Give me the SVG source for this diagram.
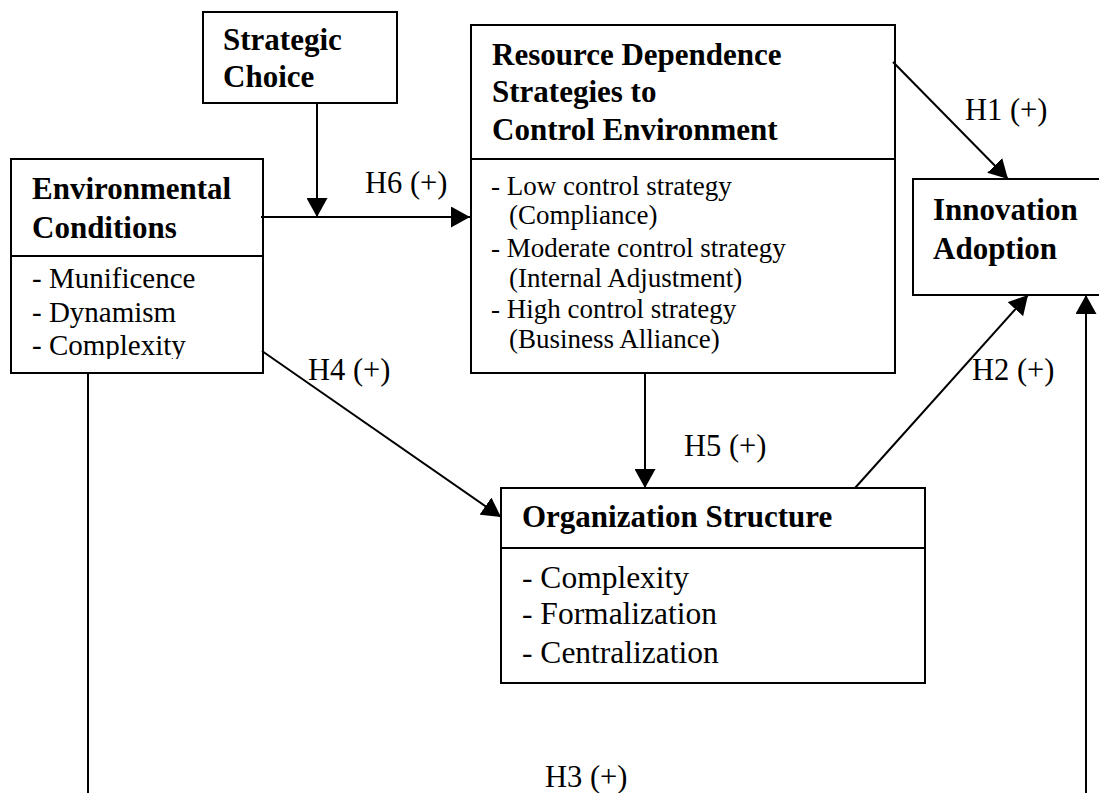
<svg xmlns="http://www.w3.org/2000/svg" width="1099" height="793" viewBox="0 0 1099 793">
<style>
.box{fill:#fff;stroke:#000;stroke-width:2}
.div{stroke:#000;stroke-width:2}
.h{font-family:"Liberation Serif","Times New Roman",serif;font-weight:bold;font-size:31px;fill:#000}
.t{font-family:"Liberation Serif","Times New Roman",serif;font-size:29px;fill:#000}
.r{font-family:"Liberation Serif","Times New Roman",serif;font-size:27px;fill:#000}
.o{font-family:"Liberation Serif","Times New Roman",serif;font-size:31.5px;fill:#000}
.lab{font-family:"Liberation Serif","Times New Roman",serif;font-size:30.5px;fill:#000}
.c{fill:none;stroke:#000;stroke-width:2}
</style>
<defs>
<marker id="ah" markerUnits="userSpaceOnUse" viewBox="0 0 19 21" refX="19" refY="10.5" markerWidth="19" markerHeight="21" orient="auto">
<path d="M0,0 L19,10.5 L0,21 z" fill="#000"/>
</marker>
<clipPath id="envclip"><rect x="11" y="256" width="252" height="103"/></clipPath>
</defs>

<g id="strategic-choice">
<rect class="box" x="203" y="12" width="194" height="91"/>
<text class="h" x="223" y="50">Strategic</text>
<text class="h" x="223" y="87">Choice</text>
</g>

<g id="environmental-conditions">
<rect class="box" x="11" y="159" width="252" height="214"/>
<line class="div" x1="11" y1="256" x2="263" y2="256"/>
<text class="h" x="32" y="199">Environmental</text>
<text class="h" x="32" y="238">Conditions</text>
<g clip-path="url(#envclip)">
<text class="t" x="32" y="288">- Munificence</text>
<text class="t" x="32" y="322">- Dynamism</text>
<text class="t" x="32" y="355">- Complexity</text>
</g>
</g>

<g id="resource-dependence">
<rect class="box" x="471" y="25" width="424" height="348"/>
<line class="div" x1="471" y1="159" x2="895" y2="159"/>
<text class="h" x="492" y="65">Resource Dependence</text>
<text class="h" x="492" y="102">Strategies to</text>
<text class="h" x="492" y="140">Control Environment</text>
<text class="r" x="491" y="195">- Low control strategy</text>
<text class="r" x="509" y="224">(Compliance)</text>
<text class="r" x="491" y="257">- Moderate control strategy</text>
<text class="r" x="509" y="287">(Internal Adjustment)</text>
<text class="r" x="491" y="318">- High control strategy</text>
<text class="r" x="509" y="348">(Business Alliance)</text>
</g>

<g id="innovation-adoption">
<rect class="box" x="913" y="179" width="200" height="116"/>
<text class="h" x="933" y="220">Innovation</text>
<text class="h" x="933" y="259">Adoption</text>
</g>

<g id="organization-structure">
<rect class="box" x="501" y="488" width="424" height="195"/>
<line class="div" x1="501" y1="548" x2="925" y2="548"/>
<text class="h" x="522" y="527">Organization Structure</text>
<text class="o" x="522" y="588">- Complexity</text>
<text class="o" x="522" y="624">- Formalization</text>
<text class="o" x="522" y="663">- Centralization</text>
</g>

<g id="connectors">
<line class="c" x1="317" y1="103" x2="317" y2="217" marker-end="url(#ah)"/>
<line class="c" x1="261" y1="217" x2="470" y2="217" marker-end="url(#ah)"/>
<line class="c" x1="893" y1="62" x2="1008" y2="179" marker-end="url(#ah)"/>
<line class="c" x1="855" y1="488" x2="1028" y2="295" marker-end="url(#ah)"/>
<line class="c" x1="262" y1="351" x2="501" y2="517" marker-end="url(#ah)"/>
<line class="c" x1="645" y1="373" x2="645" y2="488" marker-end="url(#ah)"/>
<polyline class="c" points="88,373 88,795"/>
<line class="c" x1="1086" y1="795" x2="1086" y2="295" marker-end="url(#ah)"/>
</g>

<g id="labels">
<text class="lab" x="365" y="193">H6 (+)</text>
<text class="lab" x="965" y="120">H1 (+)</text>
<text class="lab" x="308" y="380">H4 (+)</text>
<text class="lab" x="684" y="456">H5 (+)</text>
<text class="lab" x="972" y="380">H2 (+)</text>
<text class="lab" x="545" y="787">H3 (+)</text>
</g>
</svg>
